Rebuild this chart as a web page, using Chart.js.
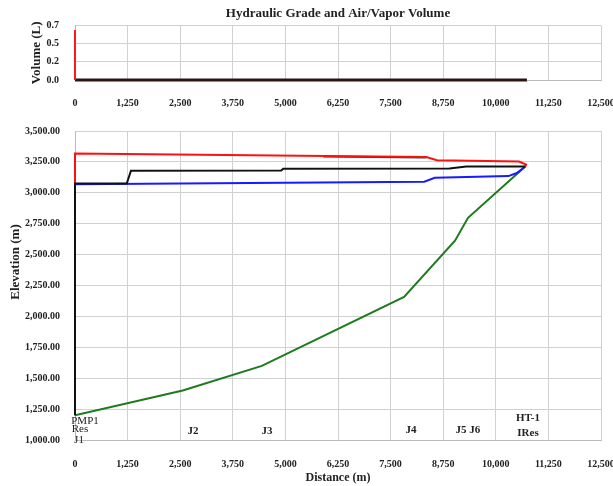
<!DOCTYPE html>
<html>
<head>
<meta charset="utf-8">
<script src="https://cdn.jsdelivr.net/npm/chart.js@4.4.1/dist/chart.umd.min.js"></script>
<style>
  body { margin: 0; background: #fff; }
  #topBox { position: absolute; left: 0; top: 0; width: 613px; height: 112px; }
  #mainBox { position: absolute; left: 0; top: 110px; width: 613px; height: 376px; }
</style>
</head>
<body>
<div id="topBox"><canvas id="volumeChart"></canvas></div>
<div id="mainBox"><canvas id="hglChart"></canvas></div>
<script>
// ===== Data =====
// air / vapor volume (top panel)
const vaporDist = [0, 0];
const vaporVol = [0, 0.69];
const airDist = [0, 10740];
const airVol = [0, 0];

// hydraulic grade (main panel)
const groundDist = [0, 2560, 4440, 7820, 9030, 9340, 10700];
const groundElev = [1200, 1400, 1600, 2157, 2613, 2798, 3213];

const maxDist = [0, 0, 8350, 8600, 10550, 10720, 10700];
const maxHead = [1200, 3318, 3290, 3264, 3253, 3228, 3213];

const shadowDist = [5900, 8350];
const shadowHead = [3293, 3286];

const curDist = [0, 0, 1230, 1330, 4900, 4950, 8900, 9300, 10700];
const curHead = [1200, 3075, 3075, 3178, 3180, 3195, 3197, 3213, 3213];

const minDist = [0, 8300, 8550, 10300, 10500, 10700];
const minHead = [3070, 3090, 3122, 3135, 3160, 3213];

// node labels along the profile
const nodeNames = ["PMP1", "Res", "J1", "J2", "J3", "J4", "J5 J6", "HT-1", "IRes"];
const nodeDist = [238, 119, 95, 2804, 4563, 7985, 9339, 10765, 10765];

const toPts = (xs, ys) => xs.map((x, i) => ({ x: x, y: ys[i] }));

const FONT = "'Liberation Serif', 'Times New Roman', serif";
const INK = "#222";
const GRID = "#d0d0d0";

Chart.defaults.font.family = FONT;
Chart.defaults.color = INK;

const fmtDist = v => Number(v).toLocaleString("en-US");
// keep the last tick label from shrinking the plot area
const noSidePad = s => { s.paddingLeft = 0; s.paddingRight = 0; };

// ===== Top: volume chart =====
new Chart(document.getElementById("volumeChart"), {
  type: "line",
  data: {
    datasets: [
      { data: toPts(vaporDist, vaporVol), borderColor: "#ff1a1a", borderWidth: 2, clip: false },
      { data: toPts(airDist, airVol), borderColor: "#2b1515", borderWidth: 3, clip: false }
    ]
  },
  options: {
    responsive: true,
    maintainAspectRatio: false,
    animation: false,
    layout: { padding: { left: 0, right: 12, top: 0, bottom: 0 } },
    elements: { point: { radius: 0 }, line: { tension: 0 } },
    plugins: {
      legend: { display: false },
      tooltip: { enabled: false },
      title: {
        display: true,
        text: "Hydraulic Grade and Air/Vapor Volume",
        fullSize: false,
        color: INK,
        font: { size: 13, weight: "bold" },
        padding: { top: 6, bottom: 4 }
      }
    },
    scales: {
      x: {
        type: "linear", min: 0, max: 12500,
        ticks: { stepSize: 1250, padding: 17, font: { size: 10, weight: "bold" }, callback: fmtDist, maxRotation: 0 },
        grid: { color: GRID, drawTicks: false },
        border: { color: "#bbb" },
        afterFit: s => { s.height = 32; noSidePad(s); }
      },
      y: {
        min: 0, max: 0.75,
        ticks: {
          stepSize: 0.25, padding: 16, font: { size: 10, weight: "bold" },
          callback: v => (Math.floor(v * 10 + 1e-9) / 10).toFixed(1)
        },
        grid: { color: GRID, drawTicks: false },
        border: { color: "#bbb" },
        title: { display: true, text: "Volume (L)", font: { size: 13, weight: "bold" }, padding: { top: 29 } },
        afterFit: s => { s.width = 75; }
      }
    }
  }
});

// ===== Main: hydraulic grade chart =====
const nodeLabelPlugin = {
  id: "nodeLabels",
  afterDatasetsDraw(chart) {
    const { ctx, chartArea, scales } = chart;
    const lift = [19, 11, 0, 9, 9, 10, 10, 22, 7];
    ctx.save();
    ctx.fillStyle = INK;
    ctx.textAlign = "center";
    ctx.textBaseline = "middle";
    nodeNames.forEach((name, i) => {
      ctx.font = (i < 3 ? "" : "bold ") + "11px " + FONT;
      ctx.fillText(name, scales.x.getPixelForValue(nodeDist[i]), chartArea.bottom - lift[i]);
    });
    // y axis title sits a bit above the axis middle in the reference
    ctx.translate(16, 262 - 110);
    ctx.rotate(-Math.PI / 2);
    ctx.font = "bold 13px " + FONT;
    ctx.fillText("Elevation (m)", 0, 0);
    ctx.restore();
  }
};

new Chart(document.getElementById("hglChart"), {
  type: "line",
  data: {
    datasets: [
      { label: "Current", data: toPts(curDist, curHead), borderColor: "#111", borderWidth: 2, clip: false },
      { label: "Max", data: toPts(maxDist, maxHead), borderColor: "#ff1010", borderWidth: 2, clip: false },
      { label: "Max (dark)", data: toPts(shadowDist, shadowHead), borderColor: "#333", borderWidth: 2 },
      { label: "Min", data: toPts(minDist, minHead), borderColor: "#1a1aff", borderWidth: 2 },
      { label: "Ground", data: toPts(groundDist, groundElev), borderColor: "#1e7a1e", borderWidth: 2 }
    ]
  },
  options: {
    responsive: true,
    maintainAspectRatio: false,
    animation: false,
    layout: { padding: { left: 0, right: 12, top: 6, bottom: 0 } },
    elements: { point: { radius: 0 }, line: { tension: 0 } },
    plugins: { legend: { display: false }, tooltip: { enabled: false } },
    scales: {
      x: {
        type: "linear", min: 0, max: 12500,
        ticks: { stepSize: 1250, padding: 18, font: { size: 10, weight: "bold" }, callback: fmtDist, maxRotation: 0 },
        grid: { color: GRID, drawTicks: false },
        border: { color: "#bbb" },
        title: { display: true, text: "Distance (m)", font: { size: 12, weight: "bold" }, padding: { top: 0, bottom: 1 } },
        afterFit: s => { s.height = 46; noSidePad(s); }
      },
      y: {
        min: 1000, max: 3500,
        ticks: {
          stepSize: 250, padding: 15, font: { size: 10, weight: "bold" },
          callback: v => Number(v).toLocaleString("en-US", { minimumFractionDigits: 2, maximumFractionDigits: 2 })
        },
        grid: { color: GRID, drawTicks: false },
        border: { color: "#bbb" },
        afterFit: s => { s.width = 75; }
      }
    }
  },
  plugins: [nodeLabelPlugin]
});
</script>
</body>
</html>
